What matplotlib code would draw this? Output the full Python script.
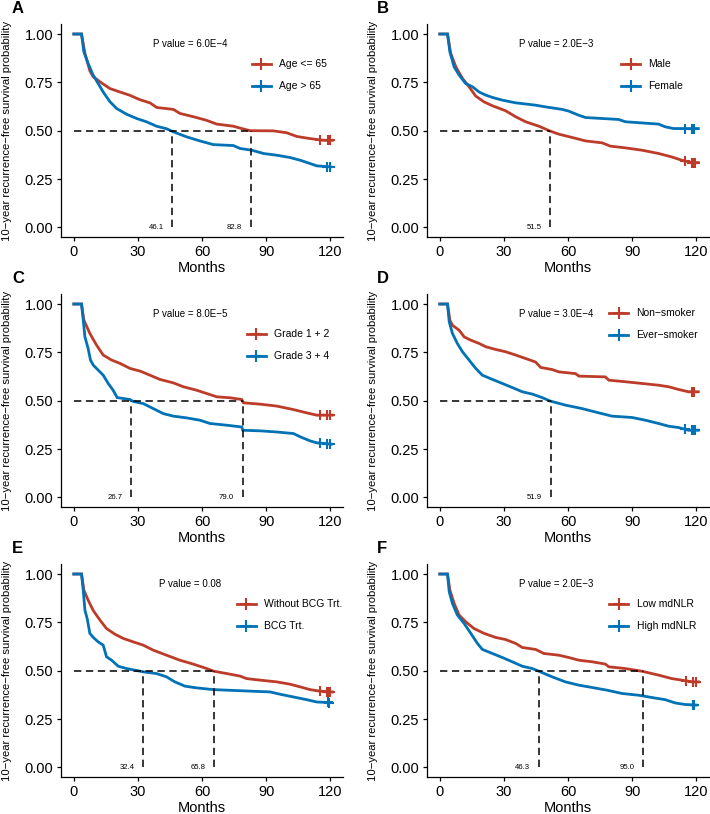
import matplotlib
matplotlib.use("Agg")
import matplotlib.pyplot as plt
from matplotlib.lines import Line2D
import numpy as np

plt.rcParams['font.family'] = ['Liberation Sans', 'DejaVu Sans']

RED = "#BC3C29"
BLUE = "#0072B5"

# ---- data (months, survival probability) ----
# A: age
a_red_t = [0, 3.6, 5.2, 7.5, 9, 12.2, 16.9, 21.6, 26, 31, 35.6, 38.8, 46.6, 49.7, 56, 62, 66.9, 74.7, 78.6, 82.5, 93.4, 99.7, 104.4, 110.6, 117, 121]
a_red_s = [1, 1, 0.90, 0.81, 0.78, 0.753, 0.718, 0.70, 0.684, 0.66, 0.644, 0.62, 0.61, 0.589, 0.572, 0.554, 0.534, 0.523, 0.511, 0.50, 0.499, 0.489, 0.47, 0.459, 0.45, 0.45]
a_blue_t = [0, 3.6, 4.7, 6.7, 9, 11.4, 13.75, 16.9, 20, 24.7, 29.4, 34, 38.75, 43.4, 46.6, 52.8, 59, 65.3, 74.7, 77.8, 83.3, 88.75, 95, 101.25, 106, 110.6, 113.75, 120]
a_blue_s = [1, 1, 0.908, 0.848, 0.788, 0.744, 0.70, 0.65, 0.615, 0.585, 0.563, 0.546, 0.523, 0.51, 0.494, 0.468, 0.447, 0.428, 0.423, 0.408, 0.399, 0.382, 0.373, 0.361, 0.347, 0.33, 0.318, 0.313]
a_red_cens = [115, 119, 120]
a_blue_cens = [118.4, 119.7]

# B: sex
b_red_t = [0, 3.6, 5.1, 7.5, 10.6, 13.7, 16.8, 20.7, 24.6, 30.8, 35.5, 40.2, 46.4, 51.4, 55.7, 61.9, 68.2, 76, 79.8, 86.9, 94.6, 102.4, 108.6, 113.3, 118, 121]
b_red_s = [1, 1, 0.90, 0.83, 0.77, 0.727, 0.679, 0.649, 0.629, 0.603, 0.572, 0.546, 0.523, 0.499, 0.482, 0.465, 0.447, 0.437, 0.42, 0.411, 0.399, 0.382, 0.364, 0.347, 0.335, 0.335]
b_blue_t = [0, 3.6, 4.7, 6.7, 9, 12.1, 15.3, 18.4, 21.5, 24.6, 29.2, 35.5, 44.8, 49.5, 57.3, 60.4, 65, 68.2, 83.7, 86.9, 102.4, 105.5, 109.4, 121]
b_blue_s = [1, 1, 0.908, 0.83, 0.788, 0.744, 0.727, 0.70, 0.684, 0.672, 0.658, 0.644, 0.632, 0.623, 0.61, 0.601, 0.58, 0.568, 0.558, 0.546, 0.534, 0.52, 0.511, 0.511]
b_red_cens = [114.6, 118, 118.8, 119.5]
b_blue_cens = [114.6, 118, 119.2]

# C: grade
c_red_t = [0, 3.6, 4.7, 7.5, 10.6, 13.75, 17.7, 21.6, 26.25, 31, 35.6, 40.3, 46.6, 51.25, 57.5, 62.2, 66.9, 73.1, 78.6, 79.4, 87.2, 95, 102.8, 109, 113.75, 121]
c_red_s = [1, 1, 0.917, 0.848, 0.788, 0.736, 0.71, 0.693, 0.667, 0.653, 0.632, 0.61, 0.592, 0.572, 0.554, 0.537, 0.52, 0.515, 0.506, 0.489, 0.482, 0.472, 0.454, 0.437, 0.425, 0.425]
c_blue_t = [0, 3.6, 4.4, 5.2, 6.7, 7.8, 9.1, 11.4, 13.75, 16.1, 18.4, 20.3, 26.25, 27.8, 32.5, 37.2, 41.9, 46.6, 52.8, 59, 63.75, 71.6, 78.6, 79.1, 87.2, 95, 102.8, 106, 110.6, 113.75, 120.5]
c_blue_s = [1, 1, 0.917, 0.83, 0.77, 0.71, 0.684, 0.658, 0.632, 0.589, 0.554, 0.516, 0.506, 0.496, 0.485, 0.459, 0.433, 0.42, 0.411, 0.399, 0.382, 0.373, 0.364, 0.347, 0.344, 0.338, 0.33, 0.313, 0.292, 0.282, 0.275]
c_red_cens = [115, 118.4, 120]
c_blue_cens = [115, 118.4, 119.7]

# D: smoking
d_red_t = [0, 3.6, 4.7, 5.9, 9, 11.4, 14.5, 18.4, 21.5, 26.1, 30.8, 35.5, 40.2, 44.8, 47.2, 52.6, 55.7, 63.5, 65.1, 77.5, 79.1, 86.8, 94.6, 102.4, 107.1, 111.75, 116.4, 121]
d_red_s = [1, 1, 0.917, 0.89, 0.865, 0.83, 0.813, 0.796, 0.779, 0.765, 0.753, 0.736, 0.718, 0.70, 0.672, 0.661, 0.649, 0.64, 0.627, 0.623, 0.606, 0.598, 0.589, 0.58, 0.572, 0.558, 0.546, 0.546]
d_blue_t = [0, 3.6, 4.4, 5.9, 8.2, 10.6, 13.7, 16.8, 19.9, 24.6, 29.3, 33.9, 38.6, 43.3, 47.9, 51.4, 58.8, 66.6, 74.4, 80.6, 90, 96.2, 102.4, 107.1, 111.75, 116.4, 121]
d_blue_s = [1, 1, 0.908, 0.848, 0.796, 0.753, 0.71, 0.667, 0.632, 0.61, 0.589, 0.568, 0.546, 0.534, 0.516, 0.499, 0.477, 0.459, 0.437, 0.42, 0.413, 0.399, 0.382, 0.368, 0.361, 0.347, 0.347]
d_red_cens = [118, 118.8]
d_blue_cens = [114.6, 118, 118.8, 119.5]

# E: BCG treatment
e_red_t = [0, 3.6, 4.7, 6.7, 9, 12.2, 15.3, 19.2, 23.1, 27.8, 32.5, 37.2, 43.4, 49.7, 55.9, 62.2, 65.6, 71.6, 77.8, 80.9, 87.2, 95, 101.25, 106, 110.6, 115.3, 121]
e_red_s = [1, 1, 0.917, 0.865, 0.813, 0.762, 0.718, 0.689, 0.667, 0.649, 0.632, 0.606, 0.58, 0.554, 0.534, 0.511, 0.497, 0.485, 0.472, 0.459, 0.451, 0.442, 0.43, 0.416, 0.402, 0.394, 0.39]
e_blue_t = [0, 3.6, 4.4, 5.2, 6.25, 7.5, 9.1, 11.4, 13.75, 15.3, 17.7, 20.8, 24.7, 32.5, 38.75, 43.4, 47.3, 52, 57.5, 65.3, 91.9, 96.6, 102.8, 109, 113.75, 120]
e_blue_s = [1, 1, 0.917, 0.813, 0.77, 0.693, 0.672, 0.649, 0.632, 0.572, 0.554, 0.523, 0.511, 0.494, 0.485, 0.468, 0.442, 0.42, 0.411, 0.402, 0.39, 0.378, 0.364, 0.35, 0.338, 0.335]
e_red_cens = [115, 118.4, 119.2, 120]
e_blue_cens = [119.2, 119.6]

# F: mdNLR
f_red_t = [0, 3.6, 4.7, 6.7, 9, 12.1, 16, 20.7, 26.1, 30.8, 35.5, 38.6, 44.8, 48.7, 55.7, 60.4, 65.1, 71.3, 77.5, 79.1, 86.8, 94.6, 102.4, 108.6, 113.3, 118, 121]
f_red_s = [1, 1, 0.917, 0.848, 0.788, 0.753, 0.718, 0.693, 0.672, 0.661, 0.641, 0.62, 0.61, 0.589, 0.58, 0.568, 0.554, 0.546, 0.534, 0.52, 0.511, 0.497, 0.477, 0.459, 0.451, 0.442, 0.442]
f_blue_t = [0, 3.6, 4.4, 5.9, 8.2, 11.4, 14.5, 17.6, 19.9, 24.6, 29.3, 33.9, 38.6, 43.3, 46.4, 52.6, 58.8, 65.1, 71.3, 78.3, 85.3, 93.1, 99.3, 105.5, 110.2, 114.9, 120]
f_blue_s = [1, 1, 0.908, 0.848, 0.788, 0.744, 0.693, 0.641, 0.61, 0.589, 0.568, 0.546, 0.523, 0.511, 0.497, 0.468, 0.442, 0.425, 0.413, 0.399, 0.382, 0.373, 0.361, 0.35, 0.333, 0.325, 0.322]
f_red_cens = [115, 118.4, 120]
f_blue_cens = [118.4, 119.2]

panel_letters = ["A", "B", "C", "D", "E", "F"]
p_values = ["6.0E\u22124", "2.0E\u22123", "8.0E\u22125", "3.0E\u22124", "0.08", "2.0E\u22123"]
medians = [[46.1, 82.8], [51.5], [26.7, 79.0], [51.9], [32.4, 65.8], [46.3, 95.0]]
group_labels = [["Age <= 65", "Age > 65"], ["Male", "Female"],
                ["Grade 1 + 2", "Grade 3 + 4"], ["Non\u2212smoker", "Ever\u2212smoker"],
                ["Without BCG Trt.", "BCG Trt."], ["Low mdNLR", "High mdNLR"]]

curves = [
    (a_red_t, a_red_s, a_red_cens, a_blue_t, a_blue_s, a_blue_cens),
    (b_red_t, b_red_s, b_red_cens, b_blue_t, b_blue_s, b_blue_cens),
    (c_red_t, c_red_s, c_red_cens, c_blue_t, c_blue_s, c_blue_cens),
    (d_red_t, d_red_s, d_red_cens, d_blue_t, d_blue_s, d_blue_cens),
    (e_red_t, e_red_s, e_red_cens, e_blue_t, e_blue_s, e_blue_cens),
    (f_red_t, f_red_s, f_red_cens, f_blue_t, f_blue_s, f_blue_cens),
]

# legend anchor (axes fraction) per panel
legend_pos = [(0.677, 0.835), (0.689, 0.835), (0.660, 0.835),
              (0.647, 0.934), (0.624, 0.835), (0.647, 0.835)]

W, H = 710, 814
fig = plt.figure(figsize=(W / 100, H / 100), dpi=100)

col_left = [61, 427]
row_top = [24.35, 294.35, 564.35]
ax_w, ax_h = 282, 212.65

for i in range(6):
    r, c = divmod(i, 2)
    left = col_left[c] / W
    bottom = 1 - (row_top[r] + ax_h) / H
    ax = fig.add_axes([left, bottom, ax_w / W, ax_h / H])

    rt, rs, rc, bt, bs, bc = curves[i]
    for t, s, cens, col in [(rt, rs, rc, RED), (bt, bs, bc, BLUE)]:
        ax.plot(t, s, color=col, lw=2.0, solid_joinstyle='miter', zorder=3)
        ax.plot(cens, np.interp(cens, t, s), ls='none', marker='+', ms=7,
                mew=1.5, color=col, zorder=3)

    # median lines
    med = medians[i]
    ax.plot([0, max(med)], [0.5, 0.5], color='black', lw=1.1, dashes=(4.8, 3), zorder=4)
    for m in med:
        ax.plot([m, m], [0, 0.5], color='black', lw=1.1, dashes=(4.8, 3), zorder=4)
        ax.text(m - 4, 0.0, f"{m:.1f}", fontsize=5.6, ha='right', va='center')

    ax.text(54.5, 0.95, "P value = " + p_values[i], fontsize=7, ha='center', va='center')

    handles = [Line2D([], [], color=RED, lw=2.0, marker='+', ms=8, mew=1.5),
               Line2D([], [], color=BLUE, lw=2.0, marker='+', ms=8, mew=1.5)]
    ax.legend(handles, group_labels[i], loc='upper left', bbox_to_anchor=legend_pos[i],
              frameon=False, fontsize=7.5, handlelength=1.8, handletextpad=0.8,
              labelspacing=1.15, borderpad=0, borderaxespad=0)

    ax.set_xlim(-6, 126)
    ax.set_ylim(-0.05, 1.05)
    ax.set_xticks([0, 30, 60, 90, 120])
    ax.set_yticks([0, 0.25, 0.5, 0.75, 1.0])
    ax.set_yticklabels(["0.00", "0.25", "0.50", "0.75", "1.00"])
    ax.tick_params(labelsize=10.5, length=3, width=0.9, pad=2.5, colors='black')
    for side in ['top', 'right']:
        ax.spines[side].set_visible(False)
    for side in ['left', 'bottom']:
        ax.spines[side].set_linewidth(0.9)
    ax.set_xlabel("Months", fontsize=10.5)
    ax.xaxis.set_label_coords(0.5, -0.113)
    ax.set_ylabel("10\u2212year recurrence\u2212free survival probability", fontsize=8.1)
    ax.yaxis.set_label_coords(-0.174, 0.5)

    fig.text((12 if c == 0 else 377) / W, 1 - (1 + 270 * r) / H, panel_letters[i],
             fontsize=12, fontweight='bold', ha='left', va='top')

fig.savefig("out.png", dpi=100)
